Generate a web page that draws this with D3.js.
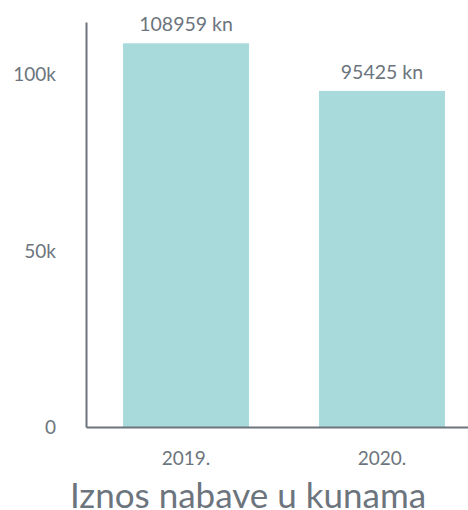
<!DOCTYPE html>
<html>
<head>
<meta charset="utf-8">
<script src="https://cdn.jsdelivr.net/npm/d3@7"></script>
<style>
  body { margin: 0; background: #fff; }
  svg { display: block; font-family: Lato, sans-serif; }
</style>
</head>
<body>
<div class="chart"></div>
<script>
const years = ['2019.', '2020.'];
const amounts = [108959, 95425];
const yTicks = [0, 50000, 100000];
const title = 'Iznos nabave u kunama';

const width = 468;
const height = 510;
const textColor = '#6c757d';
const barColor = '#a8dadc';

const svg = d3.select('.chart')
  .append('svg')
    .attr('width', width)
    .attr('height', height);

const x = d3.scaleBand()
  .domain(years)
  .range([86, 482])
  .paddingInner(0.357)
  .paddingOuter(0.189);

const y = d3.scaleLinear()
  .domain([0, 115000])
  .range([427, 22]);

// bars
svg.selectAll('.bar')
  .data(amounts)
  .enter().append('rect')
    .attr('class', 'bar')
    .attr('x', (d, i) => x(years[i]))
    .attr('y', d => y(d))
    .attr('width', x.bandwidth())
    .attr('height', d => y(0) - y(d))
    .attr('fill', barColor);

// value labels
svg.selectAll('.value')
  .data(amounts)
  .enter().append('text')
    .attr('class', 'value')
    .attr('x', (d, i) => x(years[i]) + x.bandwidth() / 2)
    .attr('y', d => y(d) - 12)
    .attr('text-anchor', 'middle')
    .attr('fill', textColor)
    .style('font-size', '19.5px')
    .text(d => `${d} kn`);

// y axis
const yAxis = svg.append('g')
  .attr('transform', 'translate(86,0)')
  .call(d3.axisLeft(y).tickValues(yTicks).tickSize(0).tickPadding(30)
    .tickFormat(d => d === 0 ? '0' : d3.format('~s')(d)));
yAxis.select('.domain').attr('stroke', textColor).attr('stroke-width', 2);
yAxis.selectAll('text').attr('fill', textColor)
  .style('font-size', '19px').style('font-family', 'Lato');

// x axis
const xAxis = svg.append('g')
  .attr('transform', 'translate(0,427)')
  .call(d3.axisBottom(x).tickSize(0).tickPadding(25));
xAxis.select('.domain').attr('stroke', textColor).attr('stroke-width', 2);
xAxis.selectAll('text').attr('fill', textColor)
  .style('font-size', '19px').style('font-family', 'Lato');

// title
svg.append('text')
  .attr('x', 248)
  .attr('y', 508)
  .attr('text-anchor', 'middle')
  .attr('fill', textColor)
  .style('font-size', '35px')
  .text(title);
</script>
</body>
</html>
